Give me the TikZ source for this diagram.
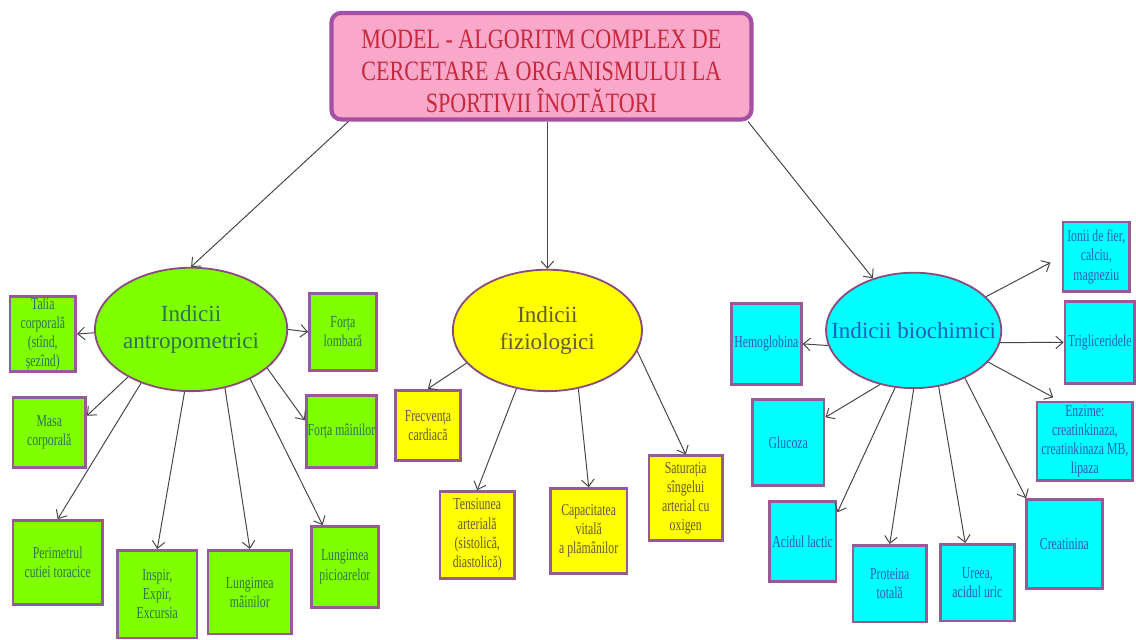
\documentclass[tikz,border=0pt]{standalone}
\usepackage{fontspec}
\setmainfont{Liberation Serif}
\newfontfamily\boxfont[FakeStretch=0.7]{Liberation Serif}
\newfontfamily\titlefont[FakeStretch=0.79]{Liberation Serif}
\usepackage{tikz}
\usetikzlibrary{calc,shapes.geometric,arrows.meta}
\definecolor{greenfill}{RGB}{128,255,0}
\definecolor{greentext}{RGB}{45,115,80}
\definecolor{yellowfill}{RGB}{255,255,0}
\definecolor{yellowtext}{RGB}{100,90,55}
\definecolor{cyanfill}{RGB}{0,255,255}
\definecolor{cyantext}{RGB}{40,90,190}
\definecolor{titlefill}{RGB}{250,168,202}
\definecolor{titletext}{RGB}{200,40,60}
\definecolor{titleline}{RGB}{165,80,165}
\definecolor{mauve}{RGB}{150,90,150}
\definecolor{bubbleline}{RGB}{140,75,125}
\definecolor{linkgrey}{RGB}{70,70,70}

\begin{document}
\begin{tikzpicture}[x=0.025cm,y=-0.025cm]

\tikzset{boxsize/.style 2 args={minimum width=#1*0.025cm,minimum height=#2*0.025cm},
anybox/.style={draw=mauve,line width=2pt,inner sep=1pt,align=center,font=\boxfont\fontsize{12}{13.7}\selectfont},
greenbox/.style={anybox,fill=greenfill,text=greentext},
yellowbox/.style={anybox,fill=yellowfill,text=yellowtext},
cyanbox/.style={anybox,fill=cyanfill,text=cyantext},
bubble/.style={shape=ellipse,draw=bubbleline,line width=1.3pt,inner sep=0pt,align=center,font=\fontsize{16.5}{19.5}\selectfont},
titlebox/.style={draw=titleline,line width=3pt,rounded corners=7pt,fill=titlefill,text=titletext,align=center,font=\titlefont\fontsize{20}{22.7}\selectfont},
link/.style={-{Straight Barb[length=5pt,width=9pt]},draw=linkgrey,line width=0.7pt}}

\fill[white] (0,0) rectangle (1136,637);

% Title
\node[titlebox,boxsize={422}{107}] (title) at (544,66.5) {\rule{0pt}{21pt}MODEL - ALGORITM COMPLEX DE\\CERCETARE A ORGANISMULUI LA\\SPORTIVII ÎNOTĂTORI};

% Groups
\node[bubble,fill=greenfill,text=greentext,boxsize={190}{124}] (antro) at (192,331) {Indicii\\antropometrici};
\node[bubble,fill=yellowfill,text=yellowtext,boxsize={190}{122}] (fizio) at (550,332) {Indicii\\fiziologici};
\node[bubble,fill=cyanfill,text=cyantext,boxsize={176}{116}] (bio) at (918,332) {\makebox[0pt]{Indicii biochimici}};

% Anthropometric boxes
\node[greenbox,boxsize={66}{75}] (a1) at (43,335.5) {Talia\\corporală\\(stînd,\\șezînd)};
\node[greenbox,boxsize={67}{77}] (a2) at (344.5,333.5) {Forța\\lombară};
\node[greenbox,boxsize={73}{71}] (a3) at (49.5,434.5) {Masa\\corporală};
\node[greenbox,boxsize={68}{73}] (a4) at (343,433.5) {Forța mâinilor};
\node[greenbox,boxsize={90}{84}] (a5) at (58,565) {Perimetrul\\cutiei toracice};
\node[greenbox,boxsize={80}{88}] (a6) at (158,597) {Inspir,\\Expir,\\Excursia};
\node[greenbox,boxsize={84}{84}] (a7) at (251,595) {Lungimea\\mâinilor};
\node[greenbox,boxsize={67}{81}] (a8) at (346.5,569.5) {Lungimea\\picioarelor};

% Physiological boxes
\node[yellowbox,boxsize={66}{71}] (f1) at (430,427.5) {Frecvența\\cardiacă};
\node[yellowbox,boxsize={75}{87}] (f2) at (479.5,537.5) {Tensiunea\\arterială\\(sistolică,\\diastolică)};
\node[yellowbox,boxsize={77}{85}] (f3) at (591.5,533.5) {Capacitatea\\vitală\\a plămânilor};
\node[yellowbox,boxsize={74}{85}] (f4) at (689,500.5) {Saturația\\sîngelui\\arterial cu\\oxigen};

% Biochemical boxes
\node[cyanbox,boxsize={70}{81}] (b1) at (770,345.5) {Hemoglobina};
\node[cyanbox,boxsize={67}{70}] (b2) at (1101.5,258) {Ionii de fier,\\calciu,\\magneziu};
\node[cyanbox,boxsize={70}{82}] (b3) at (1105,344) {Trigliceridele};
\node[cyanbox,boxsize={96}{79}] (b4) at (1090,443.5) {Enzime:\\creatinkinaza,\\creatinkinaza MB,\\lipaza};
\node[cyanbox,boxsize={72}{87}] (b5) at (792,444.5) {Glucoza};
\node[cyanbox,boxsize={67}{80}] (b6) at (806.5,544) {Acidul lactic};
\node[cyanbox,boxsize={74}{77}] (b7) at (894,586.5) {Proteina\\totală};
\node[cyanbox,boxsize={74}{77}] (b8) at (982,585.5) {Ureea,\\acidul uric};
\node[cyanbox,boxsize={77}{89}] (b9) at (1069.5,546.5) {Creatinina};

% Edges
\draw[link] (title.196) -- (antro.north); \draw[link] (fizio.north |- title.south) -- (fizio.north); \draw[link] (title.-15) -- (bio.128); % title
\draw[link] (antro.182) -- (a1.east); \draw[link] (antro.0) -- (a2.west); \draw[link] (antro.217) -- (a3.24); \draw[link] (antro.333) -- (a4.163); % anthropometric
\draw[link] (antro.227) -- (a5.north); \draw[link] (antro.264) -- (a6.north); \draw[link] (antro.300) -- (a7.north); \draw[link] (antro.320) -- (a8.118);
\draw[link] (fizio.202) -- (f1.north); \draw[link] (fizio.242) -- (f2.north); \draw[link] (fizio.298) -- (f3.north); \draw[link] (fizio.347) -- (f4.north); % physiological
\draw[link] (bio.190) -- (b1.east); \draw[link,shorten >=9pt] (bio.25) -- (b2.west); \draw[link] (bio.352) -- (b3.west); \draw[link,shorten >=5pt] (bio.337) -- (b4.122); % biochemical
\draw[link] (bio.238) -- (b5.34); \draw[link] (bio.252) -- (b6.40); \draw[link] (bio.270) -- (b7.north); \draw[link] (bio.294) -- (b8.107); \draw[link] (bio.317) -- (b9.130);

\end{tikzpicture}
\end{document}
